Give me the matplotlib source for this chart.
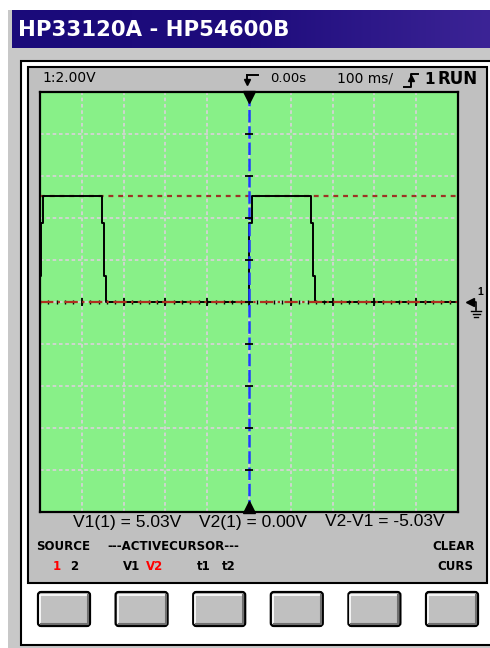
import numpy as np
import matplotlib
matplotlib.use('Agg')
import matplotlib.pyplot as plt
from matplotlib.patches import Rectangle, FancyBboxPatch

plt.rcParams['font.family'] = ['Liberation Sans', 'DejaVu Sans']

# scope settings
volts_per_div = 2.0
ms_per_div = 100.0
n_div = 10

# trace: edge times (ms) and the level held from each time on (V)
edge_t = [-500, -497, -494, -352, -347, -342, 1, 6, 148, 152, 157, 500]
edge_v = [1.24, 3.76, 5.03, 3.76, 1.24, 0.0, 3.76, 5.03, 3.76, 1.24, 0.0, 0.0]

# voltage cursors
v1 = 5.03
v2 = 0.00
t_cursor = 0.0

readout = ['V1(1) = 5.03V', 'V2(1) = 0.00V', 'V2-V1 = -5.03V']
readout_x = [73, 199, 325]
softkeys = 6

W, H = 490, 648
fig = plt.figure(figsize=(W / 100, H / 100), dpi=100)
fig.patch.set_facecolor('white')

# background axes in pixel units
bg = fig.add_axes([0, 0, 1, 1])
bg.axis('off')

# window body strip and title bar
bg.add_patch(Rectangle((8, 10), 482, 640, fc='#c8c8c8', ec='none'))
grad = np.linspace(0, 1, 256).reshape(1, -1)
cmap = matplotlib.colors.LinearSegmentedColormap.from_list('tb', ['#1a0a7a', '#1e0c7c', '#3c2496'])
bg.imshow(grad, cmap=cmap, extent=[12, 490, 48, 10], aspect='auto', zorder=2)
bg.text(18, 30, 'HP33120A - HP54600B', color='white', fontsize=15.3, fontweight='bold',
        family='DejaVu Sans', va='center', ha='left', zorder=3)

# outer frame (white) and scope panel (gray)
bg.add_patch(Rectangle((21, 61), 480, 584, fc='white', ec='black', lw=1.5))
bg.add_patch(Rectangle((28, 67), 459, 516, fc='#c0c0c0', ec='black', lw=1.5))

# header texts
bg.text(42, 78, '1:2.00V', fontsize=10, family='DejaVu Sans', va='center', ha='left')
bg.plot([247, 258], [75, 75], color='black', lw=1.4)
bg.plot([247, 247], [75, 81], color='black', lw=1.4)
bg.plot([247], [82], marker='v', ms=5, color='black')
bg.text(270, 78, '0.00s', fontsize=9.5, family='DejaVu Sans', va='center', ha='left')
bg.text(337, 78, '100 ms/', fontsize=10, family='DejaVu Sans', va='center', ha='left')
bg.plot([404, 411, 411, 418], [87, 87, 74, 74], color='black', lw=1.4)
bg.plot([411], [78], marker='^', ms=5, color='black')
bg.text(424, 79, '1', fontsize=11, fontweight='bold', family='DejaVu Sans', va='center', ha='left')
bg.text(437, 79, 'RUN', fontsize=12, fontweight='bold', family='DejaVu Sans', va='center', ha='left')

# readouts under the screen
for s, x in zip(readout, readout_x):
    bg.text(x, 522, s, fontsize=12.5, va='center', ha='left')
small = dict(fontsize=8.5, fontweight='bold', family='DejaVu Sans', va='center')
bg.text(36, 546, 'SOURCE', ha='left', **small)
bg.text(107, 546, '---ACTIVECURSOR---', ha='left', **small)
bg.text(475, 546, 'CLEAR', ha='right', **small)
bg.text(473, 566, 'CURS', ha='right', **small)
row2 = [('1', 53, 'red'), ('2', 70, 'black'), ('V1', 123, 'black'), ('V2', 146, 'red'),
        ('t1', 197, 'black'), ('t2', 222, 'black')]
for s, x, c in row2:
    bg.text(x, 566, s, color=c, ha='left', **small)

# ground marker on the right
bg.plot([470], [302], marker='<', ms=6, color='black')
bg.plot([470, 476, 476], [302, 302, 310], color='black', lw=1.2)
for i, hw in enumerate([5, 3.5, 2]):
    bg.plot([476 - hw, 476 + hw], [311 + 3 * i, 311 + 3 * i], color='black', lw=1)
bg.text(477, 292, '1', fontsize=7.5, fontweight='bold', va='center', ha='left')

# softkey buttons
for i in range(softkeys):
    x0 = 38 + i * 77.6
    bg.add_patch(FancyBboxPatch((x0, 592), 52, 34, boxstyle='round,pad=0,rounding_size=3',
                                fc='#c0c0c0', ec='black', lw=1.6))
    bg.plot([x0 + 2, x0 + 2, x0 + 49], [623, 595, 595], color='white', lw=1.2)
    bg.plot([x0 + 3, x0 + 50, x0 + 50], [624, 624, 595], color='#707070', lw=1.5)

bg.set_xlim(0, W)
bg.set_ylim(H, 0)

# scope screen
ax = fig.add_axes([40 / W, (H - 512) / H, 418 / W, 420 / H])
ax.set_facecolor('#88f088')
half_t = ms_per_div * n_div / 2
half_v = volts_per_div * n_div / 2
ax.set_xlim(-half_t, half_t)
ax.set_ylim(-half_v, half_v)
ax.set_xticks(np.arange(-half_t + ms_per_div, half_t, ms_per_div))
ax.set_yticks(np.arange(-half_v + volts_per_div, half_v, volts_per_div))
ax.tick_params(length=0, labelbottom=False, labelleft=False)
ax.grid(True, color='#d4d4d4', lw=1.3, linestyle=(0, (2, 1.5)))
for sp in ax.spines.values():
    sp.set_color('black')
    sp.set_linewidth(1.6)

# centre axis ticks
major_t = np.arange(-half_t + ms_per_div, half_t, ms_per_div)
minor_t = np.arange(-half_t, half_t, ms_per_div / 5)
ax.plot(minor_t, np.zeros_like(minor_t), ls='none', marker='|', ms=2.5, mew=1, color='black')
ax.plot(major_t, np.zeros_like(major_t), ls='none', marker='|', ms=6, mew=1.3, color='black')

# V1 cursor under the trace
ax.axhline(v1, color='#9c3424', lw=1.6, linestyle=(0, (2.2, 2.2)))
ax.plot(edge_t, edge_v, drawstyle='steps-post', color='black', lw=1.4)
ax.axhline(v2, color='#b03020', lw=1.6, linestyle=(0, (6, 2, 1, 2)))

# time cursor and centre ticks on it
ax.axvline(t_cursor, color='#1f3cff', lw=1.8, linestyle=(0, (5, 1.5)))
major_v = np.arange(-half_v + volts_per_div, half_v, volts_per_div)
ax.plot(np.zeros_like(major_v), major_v, ls='none', marker='_', ms=6, mew=1.3, color='black')
ax.plot([t_cursor], [half_v - 0.25], marker='v', ms=8, color='black', clip_on=False)
ax.plot([t_cursor], [-half_v + 0.25], marker='^', ms=8, color='black', clip_on=False)

fig.savefig('out.png', dpi=100)
